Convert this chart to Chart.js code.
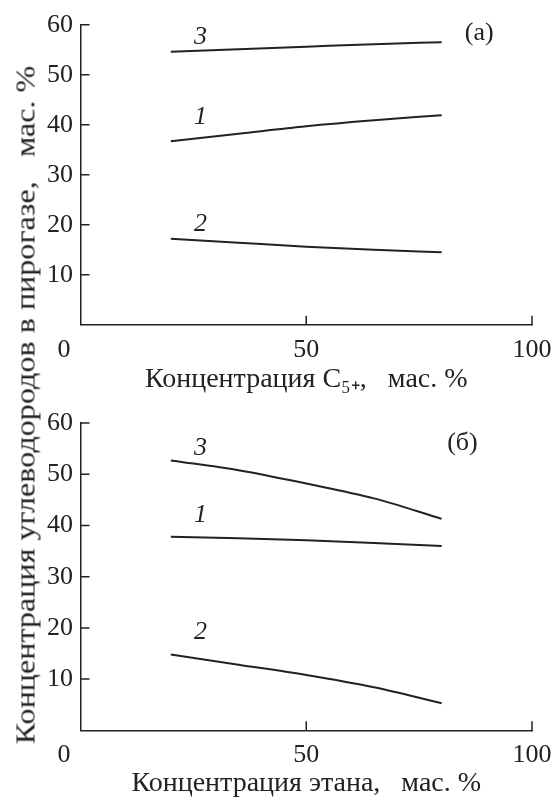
<!DOCTYPE html>
<html>
<head>
<meta charset="utf-8">
<script src="https://cdn.jsdelivr.net/npm/chart.js@4.4.1/dist/chart.umd.min.js"></script>
<style>
  body { margin: 0; background: #fff; }
  #wrap { position: relative; width: 552px; height: 800px; }
  canvas { position: absolute; left: 0; }
  #ytitle {
    position: absolute; left: 26px; top: 405px;
    font: 27px "Liberation Serif", serif; color: #222; white-space: pre;
    transform: translate(-50%, -50%) rotate(-90deg) scaleX(1.19);
  }
</style>
</head>
<body>
<div id="wrap">
  <canvas id="chartA" width="552" height="400" style="top:0"></canvas>
  <canvas id="chartB" width="552" height="400" style="top:400px"></canvas>
  <div id="ytitle">Концентрация углеводородов в пирогазе,   мас. %</div>
</div>
<script>
// x positions of the points, mass % (same for both panels)
const xVals = [20, 35, 50, 65, 80];

// panel (a): vs C5+ concentration
const a1 = [36.7, 38.2, 39.7, 40.9, 41.9];
const a2 = [17.2, 16.4, 15.6, 15.0, 14.5];
const a3 = [54.6, 55.1, 55.6, 56.1, 56.5];

// panel (б): vs ethane concentration
const b1 = [37.8, 37.5, 37.1, 36.6, 36.0];
const b2 = [14.8, 12.8, 10.8, 8.4, 5.3];
const b3 = [52.7, 50.8, 48.2, 45.3, 41.3];

const xTicks = [0, 50, 100];
const yTicks = [0, 10, 20, 30, 40, 50, 60];

// curve numbers: [text, x, y] in data units
const aNums = [["3", 26.6, 57.5], ["1", 26.6, 41.5], ["2", 26.6, 20.1]];
const bNums = [["3", 26.6, 55.1], ["1", 26.6, 42.1], ["2", 26.6, 19.1]];

const INK = "#222";
const FONT = '"Liberation Serif", serif';

// inward ticks, x tick labels and curve numbers
const decor = {
  id: "decor",
  afterDraw(chart, args, opts) {
    const { ctx, chartArea: area, scales: { x, y } } = chart;
    ctx.save();
    ctx.strokeStyle = INK;
    ctx.lineWidth = 1.5;
    ctx.beginPath();
    yTicks.forEach(v => {
      if (!v) return;
      const py = y.getPixelForValue(v);
      ctx.moveTo(area.left, py);
      ctx.lineTo(area.left + 9, py);
    });
    xTicks.forEach(v => {
      if (!v) return;
      const px = x.getPixelForValue(v);
      ctx.moveTo(px, area.bottom);
      ctx.lineTo(px, area.bottom - 9);
    });
    ctx.stroke();

    ctx.fillStyle = INK;
    ctx.textBaseline = "middle";
    ctx.font = "26px " + FONT;
    xTicks.forEach(v => {
      const px = x.getPixelForValue(v);
      ctx.textAlign = v === 0 ? "right" : "center";
      ctx.fillText(String(v), v === 0 ? px - 10 : px, area.bottom + 25);
    });

    ctx.textAlign = "center";
    ctx.fillText(opts.tag[0], x.getPixelForValue(opts.tag[1]), y.getPixelForValue(opts.tag[2]));
    ctx.font = "italic 26px " + FONT;
    opts.nums.forEach(n => {
      ctx.fillText(n[0], x.getPixelForValue(n[1]), y.getPixelForValue(n[2]));
    });
    ctx.restore();
  }
};

function series(ys) {
  return {
    data: xVals.map((x, i) => ({ x: x, y: ys[i] })),
    borderColor: INK,
    borderWidth: 2,
    pointRadius: 0,
    cubicInterpolationMode: "monotone",
    fill: false
  };
}

function makeChart(id, sets, title, top, xHeight, titlePad, nums, tag) {
  return new Chart(document.getElementById(id), {
    type: "line",
    data: { datasets: sets.map(series) },
    options: {
      responsive: false,
      animation: false,
      devicePixelRatio: 1,
      layout: { padding: { top: top, right: 20, bottom: 0, left: 0 } },
      plugins: {
        legend: { display: false },
        tooltip: { enabled: false },
        decor: { nums: nums, tag: tag }
      },
      scales: {
        x: {
          type: "linear",
          min: 0,
          max: 100,
          grid: { display: false, drawTicks: false },
          border: { display: true, color: INK, width: 1.5 },
          ticks: { display: false },
          title: {
            display: true,
            text: title,
            color: INK,
            font: { family: FONT, size: 28 },
            padding: { top: 0, bottom: titlePad }
          },
          afterFit: s => { s.height = xHeight; }
        },
        y: {
          min: 0,
          max: 60,
          grid: { display: false, drawTicks: false },
          border: { display: true, color: INK, width: 1.5 },
          ticks: {
            stepSize: 10,
            padding: 7.5,
            color: INK,
            font: { family: FONT, size: 26 },
            callback: v => (v === 0 ? "" : v)
          },
          afterFit: s => { s.width = 80.5; }
        }
      }
    },
    plugins: [decor]
  });
}

makeChart("chartA", [a1, a2, a3], "Концентрация C\u2085\u208A,   мас. %", 24.7, 75.3, 4, aNums, ["(а)", 88.3, 58.3]);
makeChart("chartB", [b1, b2, b3], "Концентрация этана,   мас. %", 17.3, 69.7, 0, bNums, ["(б)", 84.6, 56.1]);
</script>
</body>
</html>
